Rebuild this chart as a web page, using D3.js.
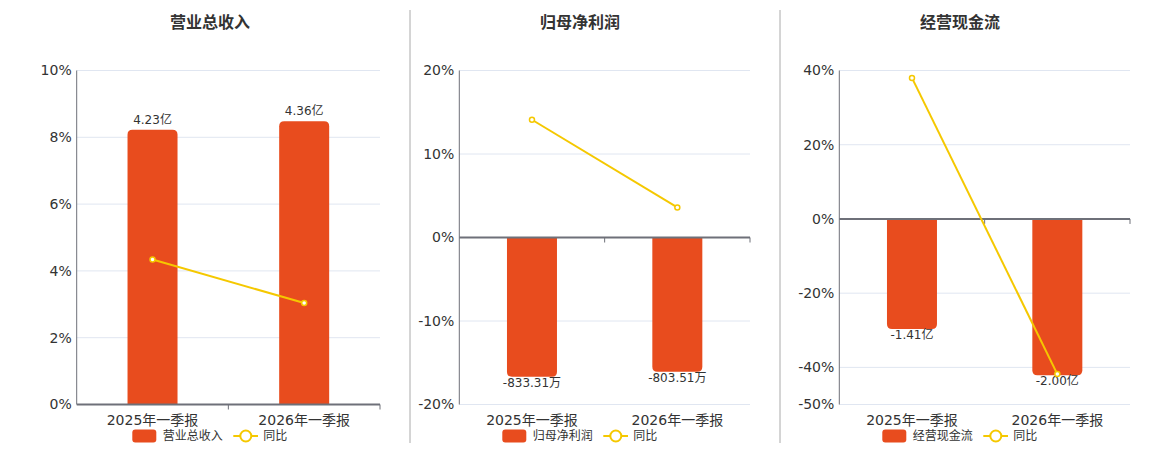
<!DOCTYPE html>
<html>
<head>
<meta charset="utf-8">
<script src="https://cdn.jsdelivr.net/npm/d3@7/dist/d3.min.js"></script>
<style>
  body { margin: 0; background: #fff; }
  svg { font-family: "DejaVu Sans", "Noto Sans CJK SC", sans-serif; }
</style>
</head>
<body>
<svg id="chart" width="1160" height="450"></svg>
<script>
// data
var categories = ["2025年一季报", "2026年一季报"];

var revenueValues = [4.23, 4.36];
var revenueLabels = ["4.23亿", "4.36亿"];
var revenueYoY = [4.34, 3.04];
var revenueTicks = [0, 2, 4, 6, 8, 10];

var profitValues = [-833.31, -803.51];
var profitLabels = ["-833.31万", "-803.51万"];
var profitYoY = [14.1, 3.6];
var profitTicks = [-20, -10, 0, 10, 20];

var cashValues = [-1.41, -2.00];
var cashLabels = ["-1.41亿", "-2.00亿"];
var cashYoY = [38.0, -41.8];
var cashTicks = [-50, -40, -20, 0, 20, 40];

var barColor = "#e84c1e",
    lineColor = "#f5c800",
    axisColor = "#6e7079",
    gridColor = "#e0e6f1";

var panels = [
  {title: "营业总收入", name: "营业总收入", center: 210, left: 76.7, right: 380,
   values: revenueValues, labels: revenueLabels, yoy: revenueYoY, ticks: revenueTicks, barFactor: 0.514},
  {title: "归母净利润", name: "归母净利润", center: 580, left: 459.3, right: 750,
   values: profitValues, labels: profitLabels, yoy: profitYoY, ticks: profitTicks, barFactor: 50},
  {title: "经营现金流", name: "经营现金流", center: 960, left: 839.3, right: 1130,
   values: cashValues, labels: cashLabels, yoy: cashYoY, ticks: cashTicks, barFactor: 0.0475}
];

var plotTop = 70.5, plotBottom = 404.5;
var svg = d3.select("#chart");

// dividers between panels
[410, 780].forEach(function(xx) {
  svg.append("line")
    .attr("x1", xx).attr("x2", xx).attr("y1", 10).attr("y2", 443)
    .attr("stroke", "#aaa").attr("stroke-width", 1);
});

// bar path with rounded far end
function barPath(x0, w, y0, y1, r) {
  var dir = y1 < y0 ? -1 : 1;
  var h = Math.abs(y1 - y0);
  r = Math.min(r, h, w / 2);
  return "M" + x0 + "," + y0 +
    "L" + x0 + "," + (y1 - dir * r) +
    "Q" + x0 + "," + y1 + " " + (x0 + r) + "," + y1 +
    "L" + (x0 + w - r) + "," + y1 +
    "Q" + (x0 + w) + "," + y1 + " " + (x0 + w) + "," + (y1 - dir * r) +
    "L" + (x0 + w) + "," + y0 + "Z";
}

panels.forEach(function(p) {
  var g = svg.append("g");
  var yDomain = d3.extent(p.ticks);

  var x = d3.scaleBand().domain(categories).range([p.left, p.right]);
  var y = d3.scaleLinear().domain(yDomain).range([plotBottom, plotTop]);
  var yBar = d3.scaleLinear().domain(yDomain.map(function(d) { return d * p.barFactor; })).range([plotBottom, plotTop]);

  // title
  g.append("text")
    .attr("x", p.center).attr("y", 28)
    .attr("text-anchor", "middle")
    .attr("font-size", 16).attr("font-weight", "bold")
    .attr("fill", "#333")
    .text(p.title);

  // grid
  g.selectAll(".grid").data(p.ticks.filter(function(t) { return t !== 0; }))
    .enter().append("line")
    .attr("x1", p.left).attr("x2", p.right)
    .attr("y1", function(d) { return y(d); }).attr("y2", function(d) { return y(d); })
    .attr("stroke", gridColor).attr("stroke-width", 1);

  // y tick labels
  g.selectAll(".ytick").data(p.ticks)
    .enter().append("text")
    .attr("x", p.left - 5)
    .attr("y", function(d) { return y(d); })
    .attr("dy", "0.35em")
    .attr("text-anchor", "end")
    .attr("font-size", 14).attr("fill", "#333")
    .text(function(d) { return d + "%"; });

  // bars
  var bw = 50;
  g.selectAll(".bar").data(p.values)
    .enter().append("path")
    .attr("fill", barColor)
    .attr("d", function(d, i) {
      var cx = x(categories[i]) + x.bandwidth() / 2;
      return barPath(cx - bw / 2, bw, yBar(0), yBar(d), 5);
    });

  // bar labels
  g.selectAll(".blabel").data(p.values)
    .enter().append("text")
    .attr("x", function(d, i) { return x(categories[i]) + x.bandwidth() / 2; })
    .attr("y", function(d) { return d >= 0 ? yBar(d) - 10 : yBar(d) + 6; })
    .attr("dy", "0.35em")
    .attr("text-anchor", "middle")
    .attr("font-size", 12).attr("fill", "#333")
    .text(function(d, i) { return p.labels[i]; });

  // axes lines
  g.append("line")
    .attr("x1", p.left).attr("x2", p.left).attr("y1", plotTop).attr("y2", plotBottom)
    .attr("stroke", axisColor).attr("stroke-width", 1);
  g.append("line")
    .attr("x1", p.left).attr("x2", p.right).attr("y1", y(0)).attr("y2", y(0))
    .attr("stroke", axisColor).attr("stroke-width", 2);
  // x ticks at band edges
  g.selectAll(".xt").data([x.range()[0] + x.bandwidth(), p.right])
    .enter().append("line")
    .attr("x1", function(d) { return d; }).attr("x2", function(d) { return d; })
    .attr("y1", y(0)).attr("y2", y(0) + 5)
    .attr("stroke", axisColor).attr("stroke-width", 1);

  // x labels
  g.selectAll(".xl").data(categories)
    .enter().append("text")
    .attr("x", function(d) { return x(d) + x.bandwidth() / 2; })
    .attr("y", 420).attr("dy", "0.35em")
    .attr("text-anchor", "middle")
    .attr("font-size", 14).attr("fill", "#333")
    .text(function(d) { return d; });

  // yoy line
  var line = d3.line()
    .x(function(d, i) { return x(categories[i]) + x.bandwidth() / 2; })
    .y(function(d) { return y(d); });
  g.append("path")
    .datum(p.yoy)
    .attr("d", line)
    .attr("fill", "none").attr("stroke", lineColor).attr("stroke-width", 2);
  g.selectAll(".pt").data(p.yoy)
    .enter().append("circle")
    .attr("cx", function(d, i) { return x(categories[i]) + x.bandwidth() / 2; })
    .attr("cy", function(d) { return y(d); })
    .attr("r", 2.5)
    .attr("fill", "#fff").attr("stroke", lineColor).attr("stroke-width", 1.5);

  // legend
  var lg = g.append("g").attr("transform", "translate(" + p.center + ",436)");
  lg.append("rect")
    .attr("x", -77.7).attr("y", -6.5).attr("width", 24).attr("height", 13).attr("rx", 3)
    .attr("fill", barColor);
  lg.append("text")
    .attr("x", -47.3).attr("dy", "0.35em")
    .attr("font-size", 12).attr("fill", "#333")
    .text(p.name);
  lg.append("line")
    .attr("x1", 23.3).attr("x2", 48).attr("y1", 0).attr("y2", 0)
    .attr("stroke", lineColor).attr("stroke-width", 2);
  lg.append("circle")
    .attr("cx", 35.8).attr("cy", 0).attr("r", 5.5)
    .attr("fill", "#fff").attr("stroke", lineColor).attr("stroke-width", 2);
  lg.append("text")
    .attr("x", 53.3).attr("dy", "0.35em")
    .attr("font-size", 12).attr("fill", "#333")
    .text("同比");
});
</script>
</body>
</html>
